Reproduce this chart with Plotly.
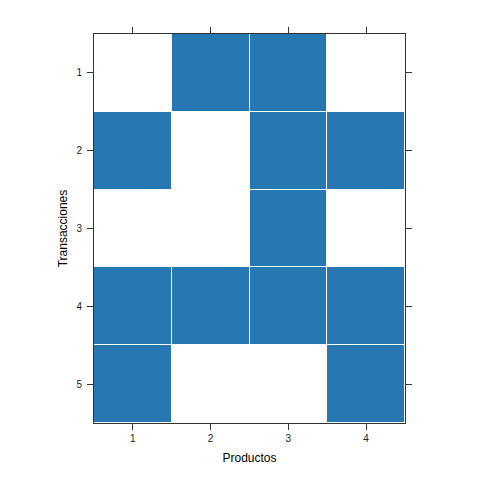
import plotly.graph_objects as go

productos = [1, 2, 3, 4]
transacciones = [1, 2, 3, 4, 5]
compras = [
    [0, 1, 1, 0],
    [1, 0, 1, 1],
    [0, 0, 1, 0],
    [1, 1, 1, 1],
    [1, 0, 0, 1],
]

fig = go.Figure(go.Heatmap(
    x=productos, y=transacciones, z=compras,
    colorscale=[[0, "#FFFFFF"], [1, "#2677B2"]],
    zmin=0, zmax=1, showscale=False, xgap=1, ygap=1,
    hoverinfo="skip",
))

axis_common = dict(
    showline=True, linecolor="#333333", linewidth=1, mirror="ticks",
    ticks="outside", ticklen=6, tickcolor="#333333",
    showgrid=False, zeroline=False,
    tickfont=dict(family="Liberation Sans, Arial, sans-serif", size=10, color="#222222"),
)

fig.update_layout(
    width=480, height=480,
    margin=dict(l=86, r=83, t=26, b=65),
    paper_bgcolor="white", plot_bgcolor="white",
    xaxis=dict(tickvals=productos, ticktext=[str(p) for p in productos],
               range=[0.5, 4.5],
               title=dict(text="Productos", standoff=10,
                          font=dict(family="Liberation Sans, Arial, sans-serif", size=12, color="#000000")),
               **axis_common),
    yaxis=dict(tickvals=transacciones, ticktext=[str(t) for t in transacciones],
               range=[5.5, 0.5], ticklabelstandoff=3,
               title=dict(text="Transacciones", standoff=6,
                          font=dict(family="Liberation Sans, Arial, sans-serif", size=12, color="#000000")),
               **axis_common),
)

fig.write_html("out.html")
